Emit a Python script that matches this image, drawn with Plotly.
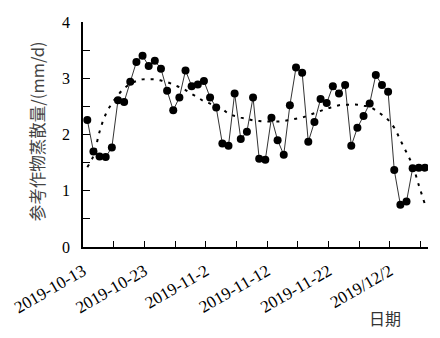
import pandas as pd
import plotly.graph_objects as go

# Daily reference crop evapotranspiration (mm/d), 2019-10-13 .. 2019-12-07
dates = pd.date_range("2019-10-13", periods=56, freq="D")
et0 = [2.26, 1.70, 1.61, 1.60, 1.77, 2.61, 2.58, 2.94, 3.29, 3.40,
       3.22, 3.31, 3.17, 2.78, 2.43, 2.66, 3.14, 2.86, 2.89, 2.95,
       2.66, 2.48, 1.84, 1.80, 2.73, 1.92, 2.05, 2.66, 1.57, 1.55,
       2.30, 1.90, 1.64, 2.52, 3.19, 3.10, 1.87, 2.22, 2.63, 2.56,
       2.86, 2.73, 2.88, 1.80, 2.12, 2.33, 2.55, 3.06, 2.88, 2.76,
       1.37, 0.75, 0.81, 1.40, 1.41, 1.41]
# Smoothed trend of the same series
trend = [1.42, 1.62, 2.05, 2.36, 2.55, 2.70, 2.82, 2.90, 2.95, 2.98,
         2.98, 2.98, 2.96, 2.93, 2.89, 2.84, 2.79, 2.72, 2.66, 2.59,
         2.55, 2.50, 2.45, 2.37, 2.33, 2.30, 2.28, 2.25, 2.24, 2.23,
         2.23, 2.23, 2.24, 2.26, 2.28, 2.30, 2.34, 2.38, 2.42, 2.46,
         2.49, 2.52, 2.53, 2.53, 2.53, 2.51, 2.49, 2.43, 2.35, 2.26,
         2.12, 1.90, 1.68, 1.45, 1.10, 0.76]

x_labels = ["2019-10-13", "2019-10-23", "2019-11-2", "2019-11-12",
            "2019-11-22", "2019/12/2"]
y_ticks = [0, 0.5, 1, 1.5, 2, 2.5, 3, 3.5, 4]

day = pd.Timedelta(days=1)
x_start = dates[0] - 0.7 * day
x_end = dates[0] + 55.5 * day
x_tickvals = [x_start + 5 * k * day for k in range(12)]
x_ticktext = [x_labels[k // 2] if k % 2 == 0 else "" for k in range(12)]
y_ticktext = [str(int(v)) if v == int(v) else "" for v in y_ticks]

serif = "Liberation Serif, Times New Roman, serif"
cjk = "Noto Sans CJK SC, sans-serif"

fig = go.Figure()
fig.add_trace(go.Scatter(
    x=dates, y=et0, mode="lines+markers",
    line=dict(color="#333333", width=1),
    marker=dict(color="black", size=8),
    showlegend=False,
))
fig.add_trace(go.Scatter(
    x=dates, y=trend, mode="lines",
    line=dict(color="black", width=2, dash="3px,6px", shape="spline"),
    showlegend=False,
))

fig.update_layout(
    width=440, height=338,
    margin=dict(l=83, r=12, t=22, b=91),
    plot_bgcolor="white", paper_bgcolor="white",
    font=dict(family=serif, size=15, color="black"),
    xaxis=dict(
        range=[x_start, x_end], tickmode="array",
        tickvals=x_tickvals, ticktext=x_ticktext,
        tickangle=-30, ticks="inside", ticklen=6, tickwidth=1.2,
        tickcolor="black", showline=True, linecolor="black", linewidth=1.5,
        showgrid=False, zeroline=False, ticklabelstandoff=6,
        tickfont=dict(family=serif, size=17),
    ),
    yaxis=dict(
        range=[0, 4], tickmode="array", tickvals=y_ticks, ticktext=y_ticktext,
        ticks="inside", ticklen=7, tickwidth=1.2, tickcolor="black",
        showline=True, linecolor="black", linewidth=1.5,
        showgrid=False, zeroline=False, ticklabelstandoff=8,
        tickfont=dict(family=serif, size=16),
    ),
    annotations=[
        dict(text="参考作物蒸散量/(mm/d)", textangle=-90,
             xref="paper", yref="paper", x=(37 - 83) / 345, y=0.515,
             showarrow=False, xanchor="center", yanchor="middle",
             font=dict(family=cjk, size=16.5, color="#444444")),
        dict(text="日期", xref="paper", yref="paper",
             x=(385 - 83) / 345, y=(247.3 - 318) / 225.6,
             showarrow=False, xanchor="center", yanchor="middle",
             font=dict(family=cjk, size=16, color="#333333")),
    ],
)

fig.write_html("out.html")
